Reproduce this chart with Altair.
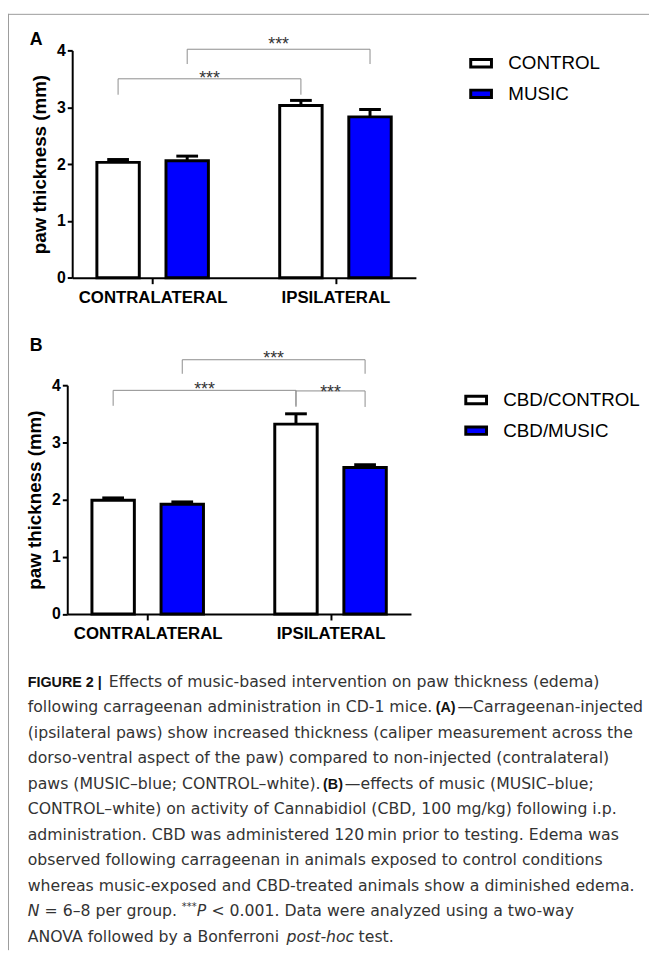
import json
import altair as alt
import pandas as pd

# ---------------- data ----------------
sides = ["CONTRALATERAL", "IPSILATERAL"]
groups_a = ["CONTROL", "MUSIC"]
groups_b = ["CBD/CONTROL", "CBD/MUSIC"]
fill_colors = ["#ffffff", "#0000ff"]

# bar order: contralateral-control, contralateral-music, ipsilateral-control, ipsilateral-music
mean_a = [2.03, 2.06, 3.03, 2.83]
sem_a = [0.05, 0.08, 0.09, 0.13]
mean_b = [1.99, 1.92, 3.32, 2.56]
sem_b = [0.04, 0.04, 0.18, 0.05]

y_ticks = [0, 1, 2, 3, 4]
y_title = "paw thickness (mm)"
sig_label = "***"

# significance brackets: left bar index, right bar index, bracket level, leg bottom, label level
brk_a_left = [0, 1]
brk_a_right = [2, 3]
brk_a_top = [3.50, 4.02]
brk_a_leg = [3.22, 3.76]
brk_a_lab = [3.50, 4.09]

brk_b_left = [1, 0, 2]
brk_b_right = [3, 2, 3]
brk_b_top = [4.445, 3.91, 3.90]
brk_b_leg = [4.20, 3.64, 3.62]
brk_b_lab = [4.46, 3.91, 3.87]

panel_tags = ["A", "B"]

caption_text = [
    ["FIGURE 2 |", "Effects of music-based intervention on paw thickness (edema)"],
    ["following carrageenan administration in CD-1 mice.", "(A)", "\u2014Carrageenan-injected"],
    ["(ipsilateral paws) show increased thickness (caliper measurement across the"],
    ["dorso-ventral aspect of the paw) compared to non-injected (contralateral)"],
    ["paws (MUSIC\u2013blue; CONTROL\u2013white).", "(B)", "\u2014effects of music (MUSIC\u2013blue;"],
    ["CONTROL\u2013white) on activity of Cannabidiol (CBD, 100 mg/kg) following i.p."],
    ["administration. CBD was administered 120\u2009min prior to testing. Edema was"],
    ["observed following carrageenan in animals exposed to control conditions"],
    ["whereas music-exposed and CBD-treated animals show a diminished edema."],
    ["N", "= 6\u20138 per group.", "***", "P", "< 0.001. Data were analyzed using a two-way"],
    ["ANOVA followed by a Bonferroni", "post-hoc", "test."],
]
caption_style = [
    ["b", "r"], ["r", "b", "r"], ["r"], ["r"], ["r", "b", "r"], ["r"], ["r"], ["r"], ["r"],
    ["i", "r", "s", "i", "r"], ["r", "i", "r"],
]

# ---------------- layout (pixels) ----------------
W, H = 649, 948
FONT = "Liberation Sans"
CAP_FONT = "DejaVu Sans"
X_DOMAIN = [-0.44, 1.44]
GROUP_SHIFT = 0.189
BAR_HALF = 0.116

# page x of each caption segment
caption_x = [
    [28, 110], [28, 441, 463], [28], [28], [28, 327, 349], [28], [28], [28], [28],
    [28, 45, 184, 199, 214], [28, 290, 363],
]
CAP_TOP, CAP_LH = 681.5, 25.8
tag_pos = [(22, 32), (22, 341)]

LEG_PATH = "M-1,-0.36L1,-0.36L1,0.36L-1,0.36Z"


def panel(means, sems, groups, bl, br, bt, bg, blab, x_range, y_range, leg_x, leg_y):
    rows = []
    for i, (m, s) in enumerate(zip(means, sems)):
        side, g = divmod(i, 2)
        xc = side + (2 * g - 1) * GROUP_SHIFT
        rows.append({"side": sides[side], "group": groups[g], "mean": m, "top": m + s,
                     "xc": xc, "x0": xc - BAR_HALF, "x1": xc + BAR_HALF})
    bars_df = pd.DataFrame(rows)
    xpos = bars_df["xc"].tolist()
    pts, labs = [], []
    for k, (l, r, t, lg, lb) in enumerate(zip(bl, br, bt, bg, blab)):
        for o, (px, py) in enumerate([(xpos[l], lg), (xpos[l], t), (xpos[r], t), (xpos[r], lg)]):
            pts.append({"bid": k, "ord": o, "bx": px, "by": py})
        labs.append({"mx": (xpos[l] + xpos[r]) / 2, "my": lb, "t": sig_label})
    pts_df = pd.DataFrame(pts)
    lab_df = pd.DataFrame(labs)

    xs = alt.Scale(domain=X_DOMAIN, range=x_range, nice=False, zero=False)
    ys = alt.Scale(domain=[0, 4], range=y_range, nice=False, zero=False)
    xax = alt.Axis(orient="bottom", offset=y_range[0] - H, values=[0, 1],
                   labelExpr=json.dumps(sides) + "[datum.value]", title=None, grid=False,
                   domainColor="black", domainWidth=2, tickColor="black", tickWidth=2,
                   tickSize=6, labelFont=FONT, labelFontWeight="bold", labelFontSize=17,
                   labelColor="black", labelPadding=6, labelFlush=False, labelOverlap=False)
    yax = alt.Axis(orient="left", offset=-x_range[0], values=y_ticks, title=y_title,
                   grid=False, domainColor="black", domainWidth=2, tickColor="black",
                   tickWidth=2, tickSize=5, labelFont=FONT, labelFontWeight="bold",
                   labelFontSize=16, labelColor="black", labelPadding=2,
                   titleFont=FONT, titleFontWeight="bold", titleFontSize=19,
                   titleColor="black", titlePadding=7)

    def X(f):
        return alt.X(f, type="quantitative", scale=xs, axis=xax)

    def Y(f):
        return alt.Y(f, type="quantitative", scale=ys, axis=yax)

    fill = alt.Fill("group:N", scale=alt.Scale(domain=groups, range=fill_colors),
                    legend=alt.Legend(title=None, orient="none", legendX=leg_x, legendY=leg_y,
                                      symbolType=LEG_PATH, symbolSize=441,
                                      symbolStrokeColor="black", symbolStrokeWidth=3,
                                      labelFont=FONT, labelFontSize=19, labelColor="black",
                                      labelOffset=15.5, rowPadding=9, padding=0))
    base = alt.Chart(bars_df)
    bars = base.mark_bar(stroke="black", strokeWidth=3, strokeJoin="miter", opacity=1).encode(
        x=X("x0"), x2="x1:Q", y=Y("mean"), y2=alt.datum(0), fill=fill)
    stem = base.mark_rule(color="black", strokeWidth=3).encode(
        x=X("xc"), y=Y("mean"), y2="top:Q")
    cap = base.mark_tick(color="black", thickness=3, size=22, orient="horizontal",
                         opacity=1).encode(x=X("xc"), y=Y("top"))
    brackets = alt.Chart(pts_df).mark_line(color="#8c8c8c", strokeWidth=1).encode(
        x=X("bx"), y=Y("by"), detail="bid:N", order="ord:Q")
    stars = alt.Chart(lab_df).mark_text(font=FONT, fontSize=18, color="#333333",
                                        baseline="middle").encode(
        x=X("mx"), y=Y("my"), text="t:N")
    return alt.layer(bars, stem, cap, brackets, stars)


panel_a = panel(mean_a, sem_a, groups_a, brk_a_left, brk_a_right, brk_a_top, brk_a_leg,
                brk_a_lab, [65, 413], [267.2, 37], 467, 38)
panel_b = panel(mean_b, sem_b, groups_b, brk_b_left, brk_b_right, brk_b_top, brk_b_leg,
                brk_b_lab, [60, 408], [607.7, 376], 462, 379)

tag_df = pd.DataFrame({"t": panel_tags, "x": [p[0] for p in tag_pos],
                       "y": [p[1] for p in tag_pos]})
tags = alt.Chart(tag_df).mark_text(font=FONT, fontSize=18, fontWeight="bold", color="black",
                                   align="left", baseline="alphabetic").encode(
    x=alt.X("x:Q", scale=None, axis=None), y=alt.Y("y:Q", scale=None, axis=None), text="t:N")

cap_rows = []
for i, (segs, stys, xs_) in enumerate(zip(caption_text, caption_style, caption_x)):
    for s, st, px in zip(segs, stys, xs_):
        cap_rows.append({"t": s, "sty": st, "x": px - 8, "y": CAP_TOP + CAP_LH * i})
cap_df = pd.DataFrame(cap_rows)

styles = {
    "r": dict(font=CAP_FONT, fontSize=15.9, color="#333333"),
    "b": dict(font=FONT, fontSize=14.5, fontWeight="bold", color="#111111"),
    "i": dict(font=CAP_FONT, fontSize=15.9, fontStyle="italic", color="#333333"),
    "s": dict(font=CAP_FONT, fontSize=10, color="#333333", dy=-6),
}
cap_layers = []
for key, st in styles.items():
    cap_layers.append(
        alt.Chart(cap_df).transform_filter(alt.datum.sty == key)
        .mark_text(align="left", baseline="alphabetic", **st)
        .encode(x=alt.X("x:Q", scale=None, axis=None), y=alt.Y("y:Q", scale=None, axis=None),
                text="t:N"))

frame_src = alt.Chart(pd.DataFrame({"k": [0]}))
top_rule = frame_src.mark_rule(color="#9a9a9a", strokeWidth=1).encode(
    x=alt.value(0), x2=alt.value(W), y=alt.value(0.5))
left_rule = frame_src.mark_rule(color="#9a9a9a", strokeWidth=1).encode(
    x=alt.value(0.5), y=alt.value(0), y2=alt.value(H))

chart = alt.layer(panel_a, panel_b, tags, *cap_layers, top_rule, left_rule).resolve_scale(
    x="independent", y="independent", fill="independent"
).properties(
    width=W, height=H, padding=0, autosize=alt.AutoSizeParams(type="none")
).configure_view(stroke="transparent")

chart.save("out.html", embed_options={"renderer": "svg", "actions": False})
